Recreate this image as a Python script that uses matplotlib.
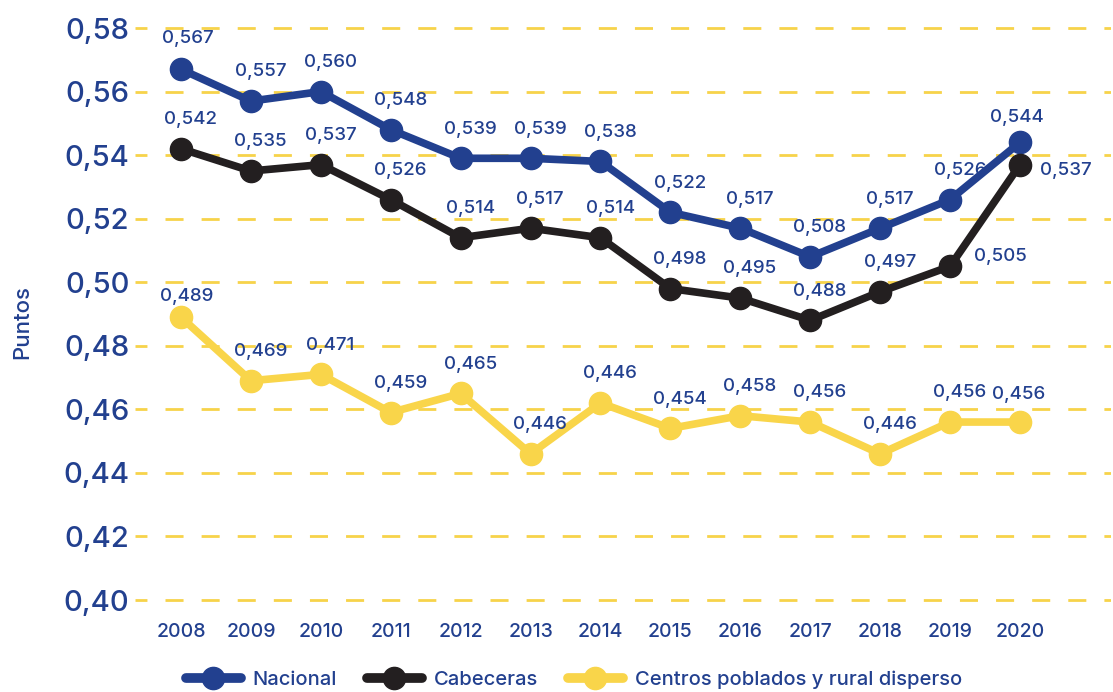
import matplotlib
matplotlib.use("Agg")
import matplotlib.pyplot as plt
from matplotlib.lines import Line2D

plt.rcParams['font.family'] = ['Inter', 'DejaVu Sans']
plt.rcParams['font.weight'] = 500

years = [2008, 2009, 2010, 2011, 2012, 2013, 2014, 2015, 2016, 2017, 2018, 2019, 2020]
nacional = [0.567, 0.557, 0.560, 0.548, 0.539, 0.539, 0.538, 0.522, 0.517, 0.508, 0.517, 0.526, 0.544]
cabeceras = [0.542, 0.535, 0.537, 0.526, 0.514, 0.517, 0.514, 0.498, 0.495, 0.488, 0.497, 0.505, 0.537]
centros = [0.489, 0.469, 0.471, 0.459, 0.465, 0.446, 0.462, 0.454, 0.458, 0.456, 0.446, 0.456, 0.456]
nacional_lbl = ["0,567", "0,557", "0,560", "0,548", "0,539", "0,539", "0,538", "0,522", "0,517", "0,508", "0,517", "0,526", "0,544"]
cabeceras_lbl = ["0,542", "0,535", "0,537", "0,526", "0,514", "0,517", "0,514", "0,498", "0,495", "0,488", "0,497", "0,505", "0,537"]
centros_lbl = ["0,489", "0,469", "0,471", "0,459", "0,465", "0,446", "0,446", "0,454", "0,458", "0,456", "0,446", "0,456", "0,456"]
yticks = [0.40, 0.42, 0.44, 0.46, 0.48, 0.50, 0.52, 0.54, 0.56, 0.58]
ytick_lbl = ["0,40", "0,42", "0,44", "0,46", "0,48", "0,50", "0,52", "0,54", "0,56", "0,58"]
series_names = ["Nacional", "Cabeceras", "Centros poblados y rural disperso"]

NAVY = "#22408f"
BLACK = "#231f20"
YELLOW = "#f9d54a"
GRID = "#f7d34a"

W, H = 1113, 692
fig = plt.figure(figsize=(W / 100, H / 100), dpi=100)
# pixel layout: y 0.58 at 28px, 0.40 at 600px; x 2008 at 181px, 2020 at 1020px
ppu = (600 - 28) / 0.18
y0, y1 = 0.395, 0.585
top_px = 28 - (y1 - 0.58) * ppu
bot_px = 600 + (0.40 - y0) * ppu
pstep = (1020 - 181) / 12
x0, x1 = 2007.34, 2021.3
left_px = 181 - (2008 - x0) * pstep
right_px = 1020 + (x1 - 2020) * pstep
ax = fig.add_axes([left_px / W, 1 - bot_px / H, (right_px - left_px) / W, (bot_px - top_px) / H])
ax.set_xlim(x0, x1)
ax.set_ylim(y0, y1)

for yv in yticks:
    ax.axhline(yv, color=GRID, lw=2, linestyle=(2.2, (6.5, 6.5)), zorder=0)

series = [(nacional, NAVY, nacional_lbl), (cabeceras, BLACK, cabeceras_lbl), (centros, YELLOW, centros_lbl)]
for vals, col, _ in series:
    ax.plot(years, vals, color=col, lw=5.5, marker='o', ms=16, solid_joinstyle='round', zorder=3)

default_off = (7, 21)
cab_off = [default_off] * 11 + [(36, 7), (33, -4)]
nac_off = [(5, 22)] + [default_off] * 11 + [(-2, 18)]
cen_off = [(4, 15)] + [default_off] * 11 + [(-1, 20)]
for (vals, _, lbls), offs in zip(series, [nac_off, cab_off, cen_off]):
    for x, v, t, o in zip(years, vals, lbls, offs):
        ax.annotate(t, (x, v), xytext=o, textcoords='offset points', ha='center', va='center',
                    fontsize=13.5, color=NAVY, zorder=5)

ax.set_yticks(yticks)
ax.set_yticklabels(ytick_lbl, fontsize=21, color=NAVY)
ax.set_xticks(years)
ax.set_xticklabels([str(y) for y in years], fontsize=14, color=NAVY)
ax.tick_params(axis='both', length=0)
ax.tick_params(axis='y', pad=4)
ax.tick_params(axis='x', pad=5)
for s in ax.spines.values():
    s.set_visible(False)
fig.text(22 / W, 1 - 322 / H, "Puntos", rotation=90, ha='center', va='center', fontsize=16, color=NAVY)

handles = [Line2D([], [], color=c, lw=7, marker='o', ms=16, solid_capstyle='round')
           for c in (NAVY, BLACK, YELLOW)]
leg = fig.legend(handles, series_names, loc='center', bbox_to_anchor=(574 / W, 1 - 680 / H), ncol=3,
                 frameon=False, fontsize=14.5, handlelength=2.7, handletextpad=0.6, columnspacing=1.5,
                 borderaxespad=0, borderpad=0)
for t in leg.get_texts():
    t.set_color(NAVY)

fig.savefig("out.png", dpi=100)
